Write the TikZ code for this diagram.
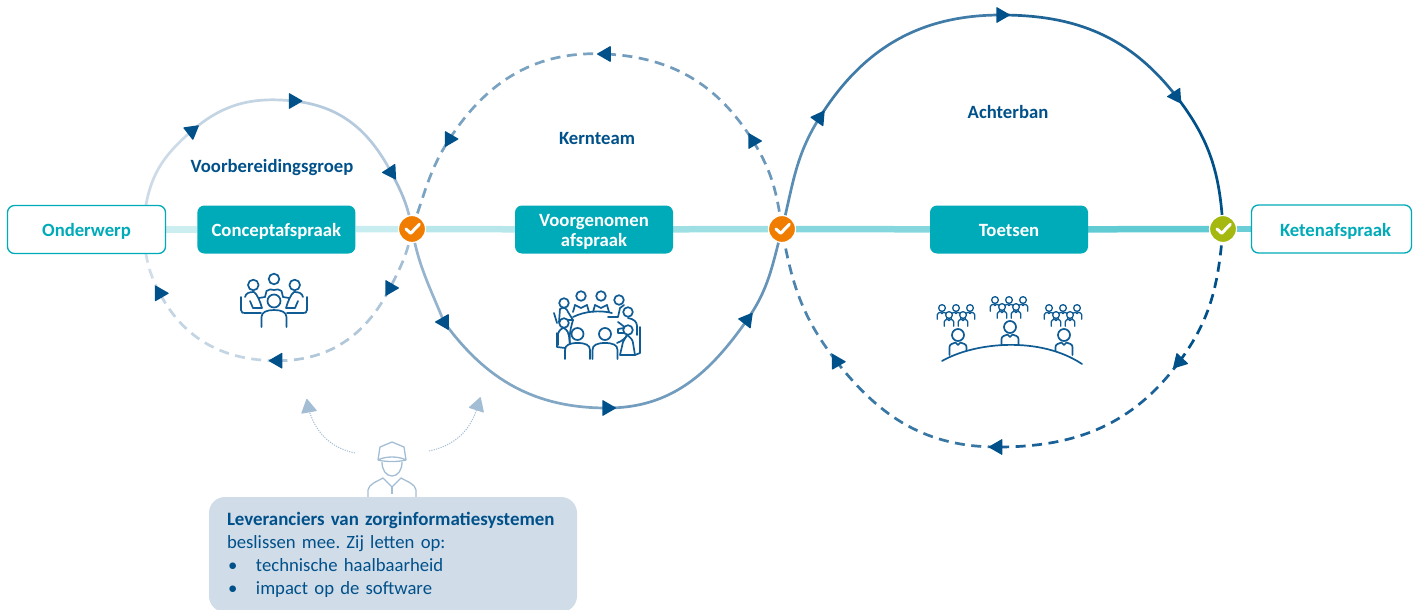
\documentclass[tikz,border=0pt]{standalone}
\usepackage{fontspec}
\setmainfont{Carlito}
\usetikzlibrary{positioning,shapes.geometric,backgrounds}

\definecolor{donkerblauw}{HTML}{00508A}
\definecolor{icoonblauw}{HTML}{0F5C94}
\definecolor{teal}{HTML}{00ABB9}
\definecolor{oranje}{HTML}{F07D00}
\definecolor{groen}{HTML}{A5B80F}
\definecolor{paneel}{HTML}{D0DCE8}
\definecolor{lichtblauw}{HTML}{A3BDD4}

\tikzset{
	vakje/.style={rectangle, rounded corners=7pt, minimum width=158pt, minimum height=48pt, align=center, font=\fontsize{18.7}{20}\selectfont\bfseries, inner sep=0pt, text height=16pt, text depth=1.5pt},
	vol/.style={vakje, fill=teal, text=white},
	open/.style={vakje, draw=teal, line width=1.3pt, fill=white, text=teal},
	kop/.style={font=\fontsize{18.7}{20}\selectfont\bfseries, text=donkerblauw},
	keuze/.style={circle, minimum size=27pt, inner sep=0pt, draw=white, line width=1.2pt, fill=#1},
	pijl/.style={regular polygon, regular polygon sides=3, minimum size=19pt, inner sep=0pt, fill=donkerblauw, rounded corners=0.8pt, rotate=#1-90},
	balk/.style={line width=6.5pt, draw=#1},
	lijn/.style={line width=2.7pt, draw=#1},
	stip/.style={lijn=#1, dash pattern=on 10pt off 6.5pt},
	icoon/.style={draw=icoonblauw, line width=1.7pt, line cap=round, line join=round},
	vinkje/.pic={\draw[white, line width=3pt, line cap=round, line join=round] (-6,0) -- (-1.3,4.3) -- (7.3,-4.7);},
	persoon/.pic={
		\draw[icoon, fill=white] (-8.5,20) -- (-8.5,12) .. controls (-8.5,9) and (-5,8.5) .. (-2.5,7.5) -- (0,10) -- (2.5,7.5) .. controls (5,8.5) and (8.5,9) .. (8.5,12) -- (8.5,20);
		\draw[icoon, fill=white] (0,0) circle (6);
	},
	groepje/.pic={
		\foreach \px in {-14,0,14} {\pic[scale=.56, icoon/.append style={line width=1.3pt}] at (\px,0) {persoon};}
		\foreach \px in {-7,7} {\pic[scale=.56, icoon/.append style={line width=1.3pt}] at (\px,7) {persoon};}
	},
}

\begin{document}
\begin{tikzpicture}[x=1pt,y=-1pt]
	\useasboundingbox (0,0) rectangle (1418,610);

	\draw
	node[open] at (86.5,229.5) (onderwerp) {Onderwerp}
	node[vol, right=31pt of onderwerp] (concept) {Conceptafspraak}
	node[vol, text height=34.5pt] at (594,229.5) (voorgenomen) {Voorgenomen\\afspraak}
	node[vol] at (1009,229.5) (toetsen) {Toetsen}
	node[open, minimum width=160pt] at (1331.5,229) (ketenafspraak) {\hspace*{8pt}Ketenafspraak};

	\draw
	node[keuze=oranje] at (412,229) (checkeen) {}
	node[keuze=oranje] at (782,229) (checktwee) {}
	node[keuze=groen] at (1223,229) (checkdrie) {};
	\pic at (checkeen) {vinkje};
	\pic at (checktwee) {vinkje};
	\pic at (checkdrie) {vinkje};

	\node[kop] at (272,168) (voorbereiding) {Voorbereidingsgroep};
	\node[kop] at (597,139) (kernteam) {Kernteam};
	\node[kop] at (1008,112) (achterban) {Achterban};

	\coordinate (eenboven) at (146,205);
	\coordinate (eenonder) at (146,254);

	\node[pijl=38] at (191.7,131) (eena) {};
	\node[pijl=0] at (293.5,101) (eenb) {};
	\node[pijl=183] at (391,172) (eenc) {};
	\node[pijl=0] at (390,288) (eend) {};
	\node[pijl=180] at (277.7,360.7) (eene) {};
	\node[pijl=0] at (159.7,293.3) (eenf) {};

	\node[pijl=0] at (449.5,139) (tweea) {};
	\node[pijl=180] at (606,54) (tweeb) {};
	\node[pijl=0] at (753,141) (tweec) {};
	\node[pijl=52] at (747,320) (tweed) {};
	\node[pijl=0] at (607,408) (tweee) {};
	\node[pijl=180] at (444,322) (tweef) {};

	\node[pijl=55] at (819.3,118) (driea) {};
	\node[pijl=0] at (1001,15) (drieb) {};
	\node[pijl=184] at (1176,96) (driec) {};
	\node[pijl=-13] at (1179.3,361.7) (dried) {};
	\node[pijl=180] at (997.7,447) (driee) {};
	\node[pijl=0] at (836.7,361.7) (drief) {};

	\begin{scope}[on background layer]
		\draw[balk=teal!20] (onderwerp) -- (concept);
		\draw[balk=teal!22] (concept) -- (checkeen);
		\draw[balk=teal!28] (checkeen) -- (voorgenomen);
		\draw[balk=teal!38] (voorgenomen) -- (checktwee);
		\draw[balk=teal!48] (checktwee) -- (toetsen);
		\draw[balk=teal!62] (toetsen) -- (checkdrie);
		\draw[balk=teal!58] (checkdrie) -- (ketenafspraak);

		% eerste cirkel
		\draw[lijn=lichtblauw!55] (eenboven) to[out=80,in=221] (eena.center);
		\draw[lijn=lichtblauw!65] (eena.center) to[out=41,in=174] (eenb.center);
		\draw[lijn=lichtblauw!80] (eenb.center) to[out=-6,in=118] (eenc.center);
		\draw[lijn=lichtblauw] (eenc.center) to[out=-62,in=100] (checkeen.center);
		\draw[stip=lichtblauw] (checkeen.center) to[out=-100,in=63] (eend.center);
		\draw[stip=lichtblauw!85] (eend.center) to[out=-117,in=0] (eene.center);
		\draw[stip=lichtblauw!65] (eene.center) to[out=180,in=-62] (eenf.center);
		\draw[stip=lichtblauw!50] (eenf.center) to[out=117,in=-80] (eenonder);

		% tweede cirkel
		\draw[stip=donkerblauw!25!lichtblauw] (checkeen.center) to[out=70,in=237] (tweea.center);
		\draw[stip=donkerblauw!25!lichtblauw] (tweea.center) to[out=57,in=177] (tweeb.center);
		\draw[stip=donkerblauw!30!lichtblauw] (tweeb.center) to[out=-3,in=122] (tweec.center);
		\draw[stip=donkerblauw!35!lichtblauw] (tweec.center) to[out=-58,in=98] (checktwee.center);
		\draw[lijn=donkerblauw!38!lichtblauw] (checktwee.center) to[out=-105,in=55] (tweed.center);
		\draw[lijn=donkerblauw!30!lichtblauw] (tweed.center) to[out=-125,in=0] (tweee.center);
		\draw[lijn=donkerblauw!20!lichtblauw] (tweee.center) to[out=180,in=-54] (tweef.center);
		\draw[lijn=donkerblauw!8!lichtblauw] (tweef.center) to[out=112,in=-80] (checkeen.center);

		% derde cirkel
		\draw[lijn=donkerblauw!65] (checktwee.center) to[out=76,in=238] (driea.center);
		\draw[lijn=donkerblauw!75] (driea.center) to[out=58,in=180] (drieb.center);
		\draw[lijn=donkerblauw!88] (drieb.center) to[out=0,in=128] (driec.center);
		\draw[lijn=donkerblauw] (driec.center) to[out=-52,in=93] (checkdrie.center);
		\draw[stip=donkerblauw] (checkdrie.center) to[out=-95,in=53.5] (dried.center);
		\draw[stip=donkerblauw!90] (dried.center) to[out=-126.5,in=0] (driee.center);
		\draw[stip=donkerblauw!78] (driee.center) to[out=180,in=-52] (drief.center);
		\draw[stip=donkerblauw!70] (drief.center) to[out=128,in=-80] (checktwee.center);
	\end{scope}

	% overleg, klein
	\begin{scope}[shift={(274,279)}]
		\draw[icoon] (-9,18) -- (-7.5,12) .. controls (-5,10) and (-3,10) .. (0,11) .. controls (3,10) and (5,10) .. (7.5,12) -- (9,18);
		\draw[icoon] (0,0) circle (5.3);
		\foreach \s in {1,-1} {
			\begin{scope}[xscale=\s]
				\draw[icoon] (-20.7,6) circle (5.3);
				\draw[icoon] (-29,18) .. controls (-28,14) and (-25,13) .. (-20,13) .. controls (-17,15) and (-14,22) .. (-12,29) -- (-21,29) -- (-24,22);
				\draw[icoon] (-33,18) -- (-33,31) .. controls (-33,34) and (-31,34) .. (-29,34) -- (-13,34);
				\draw[icoon] (-15,19) -- (-9,18);
			\end{scope}
		}
		\draw[icoon, fill=white] (-12.5,48) -- (-12.5,38) .. controls (-12.5,33) and (-7,31) .. (0,31) .. controls (7,31) and (12.5,33) .. (12.5,38) -- (12.5,48);
		\draw[icoon, fill=white] (0,22) circle (6.5);
	\end{scope}

	% overleg, groot
	\draw[icoon] (573,317) .. controls (585,311) and (600,310) .. (612,313);
	\draw[icoon] (617,343) .. controls (622,341) and (626,338) .. (627,335);
	\draw[icoon] (573,320) .. controls (570,330) and (569,337) .. (570,345);
	\draw[icoon] (618,322) .. controls (622,325) and (625,327) .. (626,329);
	\foreach \hx in {581,601} {
		\draw[icoon] (\hx-8,312) -- (\hx-6,305) -- (\hx,308) -- (\hx+6,305) -- (\hx+8,312);
		\draw[icoon] (\hx,296) circle (4.8);
	}
	\draw[icoon] (554,313) -- (557,323);
	\draw[icoon] (559,322) -- (560,309) .. controls (564,306) and (567,309) .. (568,312) -- (573,320) -- (568,320);
	\draw[icoon] (564,303) circle (4.8);
	\draw[icoon] (608,317) -- (618,317) -- (620,308) -- (624,305);
	\draw[icoon] (619,300) circle (4.8);
	\draw[icoon] (628,318) .. controls (634,319) and (637,322) .. (637,326) -- (637,335);
	\draw[icoon] (640,327) -- (640,353) -- (635,355);
	\draw[icoon] (628,312) circle (4.8);
	\draw[icoon, fill=white] (618,329) -- (624,328) -- (624,333) -- (618,333) -- cycle;
	\draw[icoon] (620,355) -- (623,342) -- (627,335) .. controls (630,337) and (633,340) .. (633,343) -- (635,355) -- cycle;
	\draw[icoon, fill=white] (628,330) circle (4.8);
	\draw[icoon] (557,333) -- (557,347) -- (565,348);
	\draw[icoon] (558,345) -- (558,334) .. controls (559,330) and (562,328) .. (564,328) .. controls (567,330) and (569,333) .. (569,336) -- (570,345);
	\draw[icoon, fill=white] (564,323) circle (4.8);
	\foreach \hx in {577.5,605} {
		\draw[icoon, fill=white] (\hx-12.5,359) -- (\hx-12.5,350) .. controls (\hx-12.5,345) and (\hx-8,343) .. (\hx,343) .. controls (\hx+8,343) and (\hx+12.5,345) .. (\hx+12.5,350) -- (\hx+12.5,359);
		\draw[icoon] (\hx,334) circle (6);
	}

	% achterban
	\pic at (956,308) {groepje};
	\pic at (1009,300) {groepje};
	\pic at (1063,308) {groepje};
	\pic at (958,335) {persoon};
	\pic at (1010,327) {persoon};
	\pic at (1064,335) {persoon};
	\fill[white] (942,361) .. controls (975,344) and (1040,336) .. (1082,364) -- (1082,372) -- (942,372) -- cycle;
	\draw[icoon] (942,361) .. controls (975,342) and (1040,336) .. (1082,364);

	% leverancier
	\coordinate (leverlinks) at (355,453);
	\coordinate (leverrechts) at (429,451);
	\node[pijl=100, fill=lichtblauw] at (308.3,407.7) (doela) {};
	\node[pijl=72, fill=lichtblauw] at (477.7,405.7) (doelb) {};
	\begin{scope}[on background layer]
		\draw[lichtblauw, line width=1pt, dash pattern=on 1.2pt off 1.2pt] (leverlinks) to[out=168,in=-75] (doela.center);
		\draw[lichtblauw, line width=1pt, dash pattern=on 1.2pt off 1.2pt] (leverrechts) to[out=12,in=-105] (doelb.center);
	\end{scope}

	\begin{scope}[lichtblauw, line width=1.3pt, line join=round]
		\draw (380,447) -- (392,442) -- (404,447) -- (406,460);
		\draw (380,447) -- (378,460);
		\draw (378,460) .. controls (385,456) and (399,456) .. (406,460) .. controls (399,462) and (385,462) .. (378,460);
		\draw (382,462) .. controls (382,470) and (386,476) .. (392,476) .. controls (398,476) and (402,470) .. (402,462);
		\draw (368,497) -- (368,490) .. controls (369,484) and (376,482) .. (383,478) -- (392,487) -- (401,478) .. controls (408,482) and (415,484) .. (416,490) -- (416,497);
		\draw (392,487) -- (392,494);
	\end{scope}

	\node[rectangle, rounded corners=16pt, fill=paneel, minimum width=368pt, minimum height=115pt, text width=332pt, inner xsep=18pt, inner ysep=0pt, align=left, text=donkerblauw, font=\fontsize{18.7}{23}\selectfont\frenchspacing] at (393,554.5) (leveranciers) {\textbf{\fontsize{18.9}{23}\selectfont Leveranciers van zorginformatiesystemen}\\beslissen mee. Zij letten op:\\\makebox[29pt][l]{\hspace{1pt}\textbullet}technische haalbaarheid\\\makebox[29pt][l]{\hspace{1pt}\textbullet}impact op de software};
\end{tikzpicture}
\end{document}
